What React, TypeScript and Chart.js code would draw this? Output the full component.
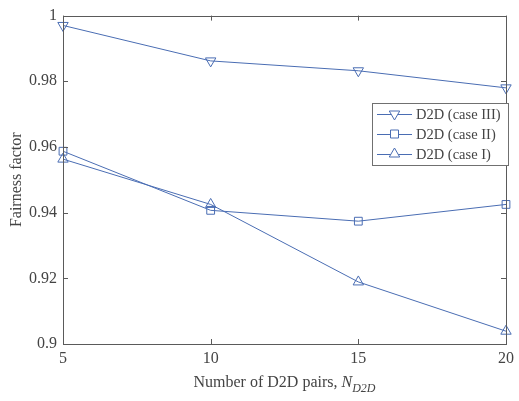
import React, { useEffect, useRef } from "react";
import { Chart, registerables } from "chart.js";

Chart.register(...registerables);

const xValues = [5, 10, 15, 20];
const caseIII = [0.997, 0.9862, 0.9832, 0.978];
const caseII = [0.9587, 0.9407, 0.9374, 0.9425];
const caseI = [0.9563, 0.9425, 0.9189, 0.9039];
const seriesLabels = ["D2D (case III)", "D2D (case II)", "D2D (case I)"];
const xTicks = [5, 10, 15, 20];
const yTicks = [0.9, 0.92, 0.94, 0.96, 0.98, 1];

const LINE = "#4a6db3";
const AXIS = "#5a5a5a";
const TEXT = "#444444";
const FONT = "'Liberation Serif', 'Times New Roman', serif";

function drawMarker(ctx: CanvasRenderingContext2D, style: string, rot: number, x: number, y: number) {
  ctx.save();
  ctx.strokeStyle = LINE;
  ctx.fillStyle = "#ffffff";
  ctx.lineWidth = 1;
  ctx.beginPath();
  if (style === "rect") {
    const s = 4;
    ctx.rect(x - s, y - s, 2 * s, 2 * s);
  } else {
    const r = 6;
    const dir = rot === 180 ? -1 : 1;
    ctx.moveTo(x, y - dir * r);
    ctx.lineTo(x - r * 0.87, y + dir * r * 0.5);
    ctx.lineTo(x + r * 0.87, y + dir * r * 0.5);
    ctx.closePath();
  }
  ctx.fill();
  ctx.stroke();
  ctx.restore();
}

const framePlugin = {
  id: "matlabFrame",
  afterDraw(chart: any) {
    const { ctx, chartArea: a, scales } = chart;
    const xs = scales.x;
    const ys = scales.y;
    ctx.save();
    ctx.strokeStyle = AXIS;
    ctx.lineWidth = 1;
    ctx.strokeRect(Math.round(a.left) + 0.5, Math.round(a.top) + 0.5, Math.round(a.right - a.left), Math.round(a.bottom - a.top));
    const tl = 5;
    ctx.beginPath();
    xTicks.forEach((v) => {
      const px = Math.round(xs.getPixelForValue(v)) + 0.5;
      ctx.moveTo(px, a.bottom);
      ctx.lineTo(px, a.bottom - tl);
      ctx.moveTo(px, a.top);
      ctx.lineTo(px, a.top + tl);
    });
    yTicks.forEach((v) => {
      const py = Math.round(ys.getPixelForValue(v)) + 0.5;
      ctx.moveTo(a.left, py);
      ctx.lineTo(a.left + tl, py);
      ctx.moveTo(a.right, py);
      ctx.lineTo(a.right - tl, py);
    });
    ctx.stroke();

    // x-axis title with subscript
    const cx = (a.left + a.right) / 2;
    const ty = 387;
    ctx.fillStyle = TEXT;
    ctx.textBaseline = "alphabetic";
    const mainFont = `16px ${FONT}`;
    const italFont = `italic 16px ${FONT}`;
    const subFont = `italic 12px ${FONT}`;
    const t1 = "Number of D2D pairs, ";
    const t2 = "N";
    const t3 = "D2D";
    ctx.font = mainFont;
    const w1 = ctx.measureText(t1).width;
    ctx.font = italFont;
    const w2 = ctx.measureText(t2).width;
    ctx.font = subFont;
    const w3 = ctx.measureText(t3).width;
    let sx = cx - (w1 + w2 + w3) / 2;
    ctx.textAlign = "left";
    ctx.font = mainFont;
    ctx.fillText(t1, sx, ty);
    sx += w1;
    ctx.font = italFont;
    ctx.fillText(t2, sx, ty);
    sx += w2;
    ctx.font = subFont;
    ctx.fillText(t3, sx, ty + 5);

    // legend
    const lx = 372, ly = 103, lw = 136, lh = 62;
    ctx.fillStyle = "#ffffff";
    ctx.fillRect(lx, ly, lw, lh);
    ctx.strokeStyle = "#707070";
    ctx.strokeRect(lx + 0.5, ly + 0.5, lw, lh);
    const styles = ["triangle", "rect", "triangle"];
    const rots = [180, 0, 0];
    seriesLabels.forEach((lab, i) => {
      const y = ly + 11 + i * 20;
      ctx.strokeStyle = LINE;
      ctx.lineWidth = 1;
      ctx.beginPath();
      ctx.moveTo(lx + 5, y + 0.5);
      ctx.lineTo(lx + 40, y + 0.5);
      ctx.stroke();
      drawMarker(ctx, styles[i], rots[i], lx + 22.5, y);
      ctx.fillStyle = TEXT;
      ctx.font = `14.5px ${FONT}`;
      ctx.textAlign = "left";
      ctx.textBaseline = "middle";
      ctx.fillText(lab, lx + 44, y + 1);
    });
    ctx.restore();
  },
};

export default function App() {
  const ref = useRef<HTMLCanvasElement>(null);
  useEffect(() => {
    document.body.style.margin = "0";
    const mk = (data: number[], label: string, style: string, rot: number, radius: number) => ({
      label,
      data: xValues.map((x, i) => ({ x, y: data[i] })),
      borderColor: LINE,
      backgroundColor: "rgba(255,255,255,0)",
      borderWidth: 1,
      pointStyle: style,
      rotation: rot,
      pointRadius: radius,
      pointBorderColor: LINE,
      pointBackgroundColor: "rgba(255,255,255,0)",
      pointBorderWidth: 1,
      tension: 0,
      clip: false as any,
    });
    const chart = new Chart(ref.current!, {
      type: "line",
      data: {
        datasets: [
          mk(caseIII, seriesLabels[0], "triangle", 180, 6),
          mk(caseII, seriesLabels[1], "rect", 0, 5.5),
          mk(caseI, seriesLabels[2], "triangle", 0, 6),
        ],
      },
      options: {
        responsive: false,
        animation: false,
        layout: { padding: { top: 10, right: 10, left: 0, bottom: 0 } },
        plugins: { legend: { display: false }, tooltip: { enabled: false } },
        scales: {
          x: {
            type: "linear",
            min: 5,
            max: 20,
            afterFit: (s: any) => { s.height = 57; },
            afterBuildTicks: (s: any) => { s.ticks = xTicks.map((v) => ({ value: v })); },
            grid: { display: false, drawTicks: false },
            border: { display: false },
            ticks: { color: TEXT, font: { family: FONT, size: 16 }, padding: 5, maxRotation: 0 },
          },
          y: {
            type: "linear",
            min: 0.9,
            max: 1,
            afterFit: (s: any) => { s.width = 63; },
            afterBuildTicks: (s: any) => { s.ticks = yTicks.map((v) => ({ value: v })); },
            grid: { display: false, drawTicks: false },
            border: { display: false },
            ticks: {
              color: TEXT,
              font: { family: FONT, size: 16 },
              padding: 6,
              callback: (v: any) => String(Math.round(Number(v) * 100) / 100),
            },
            title: { display: true, text: "Fairness factor", color: TEXT, font: { family: FONT, size: 16 }, padding: { top: 7, bottom: 0 } },
          },
        },
      },
      plugins: [framePlugin],
    });
    return () => chart.destroy();
  }, []);
  return (
    <div style={{ position: "fixed", left: 0, top: 0, width: 519, height: 401, background: "#fff" }}>
      <canvas ref={ref} width={519} height={401} />
    </div>
  );
}
